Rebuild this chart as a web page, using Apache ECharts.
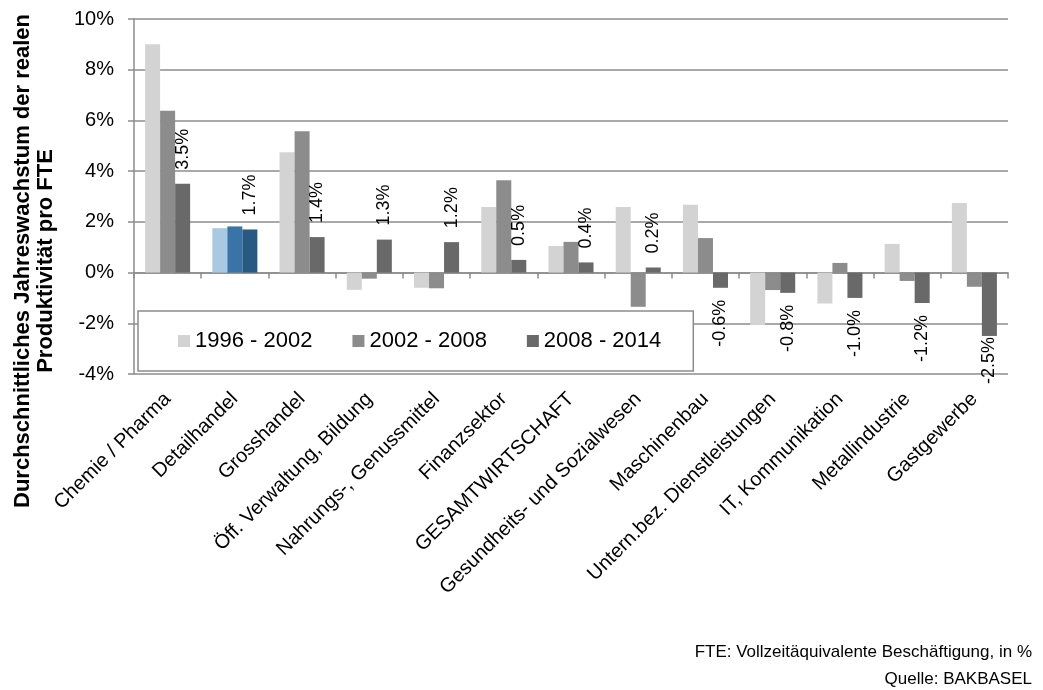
<!DOCTYPE html>
<html>
<head>
<meta charset="utf-8">
<script src="https://cdn.jsdelivr.net/npm/echarts@6/dist/echarts.min.js"></script>
<style>
  html, body { margin: 0; padding: 0; background: #fff; }
  #main { width: 1043px; height: 690px; }
</style>
</head>
<body>
<div id="main"></div>
<script>
// Branchen (Kategorien)
var categories = ['Chemie / Pharma', 'Detailhandel', 'Grosshandel', 'Öff. Verwaltung, Bildung',
  'Nahrungs-, Genussmittel', 'Finanzsektor', 'GESAMTWIRTSCHAFT', 'Gesundheits- und Sozialwesen',
  'Maschinenbau', 'Untern.bez. Dienstleistungen', 'IT, Kommunikation', 'Metallindustrie', 'Gastgewerbe']

var periods = ['1996 - 2002', '2002 - 2008', '2008 - 2014']

// Jahreswachstum in %
var p1996 = [9.0, 1.75, 4.75, -0.68, -0.6, 2.59, 1.05, 2.59, 2.67, -2.07, -1.22, 1.13, 2.74]
var p2002 = [6.38, 1.82, 5.57, -0.24, -0.62, 3.64, 1.21, -1.35, 1.36, -0.69, 0.38, -0.33, -0.56]
var p2008 = [3.5, 1.7, 1.4, 1.3, 1.2, 0.5, 0.4, 0.2, -0.6, -0.8, -1.0, -1.2, -2.5]

var yTicks = { min: -4, max: 10, step: 2 }

var greys = ['#d3d3d3', '#8c8c8c', '#696969']
var blues = ['#a9c9e3', '#3a74a7', '#275981']   // Detailhandel hervorgehoben
var highlight = 1
var font = 'Liberation Sans'

var build = function (values, k, withLabel) {
  return values.map(function (v, i) {
    var item = { value: v }
    if (i == highlight) item.itemStyle = { color: blues[k] }
    if (withLabel) {
      var pos = v >= 0
      item.label = {
        show: true,
        position: pos ? 'top' : 'bottom',
        align: pos ? 'left' : 'right',
        verticalAlign: 'middle',
        rotate: 90,
        distance: pos ? 14 : (v < -2 ? 1 : 12)
      }
    }
    return item
  })
}

var myChart = echarts.init(document.getElementById('main'))

var option = {
  animation: false,
  backgroundColor: '#ffffff',
  textStyle: { fontFamily: font },
  grid: { left: 134, right: 35, top: 19, bottom: 316, containLabel: false, outerBoundsMode: 'none' },
  legend: {
    data: periods,
    left: 138,
    top: 311,
    orient: 'horizontal',
    icon: 'rect',
    itemWidth: 12,
    itemHeight: 12,
    itemGap: 40,
    padding: [19, 32, 19, 40],
    backgroundColor: '#ffffff',
    borderColor: '#8c8c8c',
    borderWidth: 1.5,
    textStyle: { fontSize: 22, color: '#000', fontFamily: font }
  },
  xAxis: [
    {
      type: 'category',
      data: categories,
      position: 'bottom',
      axisLine: { onZero: true, lineStyle: { color: '#8c8c8c', width: 1.5 } },
      axisTick: { show: true, interval: 0, length: 6, lineStyle: { color: '#8c8c8c', width: 1.5 } },
      axisLabel: { show: false }
    },
    {
      type: 'category',
      data: categories,
      position: 'bottom',
      axisLine: { show: false, onZero: false },
      axisTick: { show: false },
      axisLabel: { interval: 0, rotate: 45, margin: 22, fontSize: 20, color: '#000', fontFamily: font }
    }
  ],
  yAxis: {
    type: 'value',
    min: yTicks.min,
    max: yTicks.max,
    interval: yTicks.step,
    axisLine: { show: true, lineStyle: { color: '#8c8c8c', width: 1.5 } },
    axisTick: { show: true, length: 6, lineStyle: { color: '#8c8c8c', width: 1.5 } },
    axisLabel: { formatter: '{value}%', fontSize: 20, color: '#000', margin: 20, fontFamily: font },
    splitLine: { lineStyle: { color: '#8c8c8c', width: 1.5 } }
  },
  series: [
    { name: periods[0], type: 'bar', xAxisIndex: 0, barGap: '0%', barCategoryGap: '33%',
      itemStyle: { color: greys[0] }, data: build(p1996, 0, false) },
    { name: periods[1], type: 'bar', xAxisIndex: 0, barGap: '0%', barCategoryGap: '33%',
      itemStyle: { color: greys[1] }, data: build(p2002, 1, false) },
    { name: periods[2], type: 'bar', xAxisIndex: 0, barGap: '0%', barCategoryGap: '33%',
      itemStyle: { color: greys[2] },
      label: {
        fontSize: 18, color: '#000', fontFamily: font,
        formatter: function (p) { return p.value.toFixed(1) + '%' }
      },
      data: build(p2008, 2, true) }
  ],
  graphic: [
    {
      type: 'text', x: 34, y: 261, rotation: Math.PI / 2,
      style: {
        text: 'Durchschnittliches Jahreswachstum der realen\nProduktivität pro FTE',
        font: 'bold 22px "Liberation Sans"', fill: '#000',
        align: 'center', verticalAlign: 'middle', lineHeight: 23
      }
    },
    {
      type: 'text', x: 1032, y: 652,
      style: { text: 'FTE: Vollzeitäquivalente Beschäftigung, in %', font: '17px "Liberation Sans"',
        fill: '#000', align: 'right', verticalAlign: 'middle' }
    },
    {
      type: 'text', x: 1032, y: 679,
      style: { text: 'Quelle: BAKBASEL', font: '17px "Liberation Sans"',
        fill: '#000', align: 'right', verticalAlign: 'middle' }
    }
  ]
}

myChart.setOption(option)
</script>
</body>
</html>
